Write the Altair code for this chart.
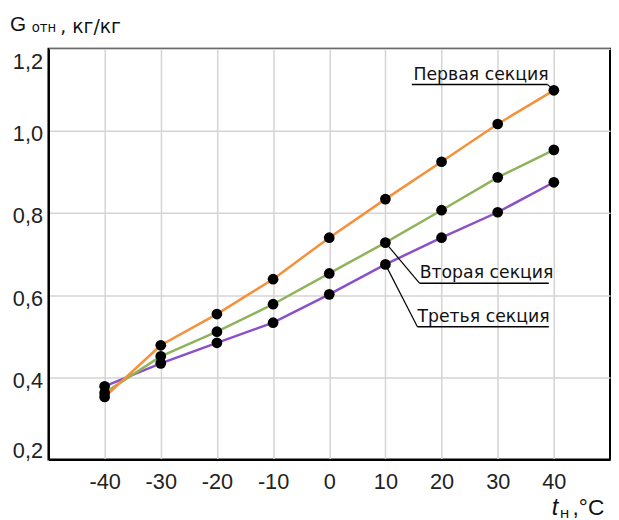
import altair as alt
import pandas as pd

# ---- data ----
temps = [-40, -30, -20, -10, 0, 10, 20, 30, 40]
first_section = [0.352, 0.478, 0.554, 0.639, 0.740, 0.834, 0.925, 1.017, 1.099]
second_section = [0.362, 0.451, 0.511, 0.578, 0.653, 0.728, 0.807, 0.887, 0.954]
third_section = [0.378, 0.434, 0.484, 0.533, 0.602, 0.675, 0.740, 0.802, 0.875]
series_names = ["Первая секция", "Вторая секция", "Третья секция"]
series_colors = ["#f5913a", "#8fb35a", "#8b4fc9"]
x_ticks = [-40, -30, -20, -10, 0, 10, 20, 30, 40]
y_ticks = [0.2, 0.4, 0.6, 0.8, 1.0, 1.2]

# annotation anchors (data units)
ann_text_x = [15.0, 16.1, 15.7]
ann_text_y = [1.125, 0.643, 0.535]
ann_line_x = [14.7, 16.1, 15.7]
ann_line_x2 = [38.9, 39.1, 39.1]
ann_line_y = [1.113, 0.629, 0.523]
leader_from_x = [38.9, 16.1, 15.7]
leader_to_x = [40, 10, 10]
leader_to_y = [1.099, 0.728, 0.675]

all_values = [first_section, second_section, third_section]
rows = []
for name, vals in zip(series_names, all_values):
    for t, v in zip(temps, vals):
        rows.append({"t": t, "g": v, "series": name})
df = pd.DataFrame(rows)

ann = pd.DataFrame({
    "label": series_names,
    "tx": ann_text_x, "ty": ann_text_y,
    "lx": ann_line_x, "lx2": ann_line_x2, "ly": ann_line_y,
    "fx": leader_from_x, "px": leader_to_x, "py": leader_to_y,
})

xs = alt.Scale(domain=[-50, 50], nice=False, zero=False)
ys = alt.Scale(domain=[0.2, 1.2], nice=False, zero=False)

x_axis = alt.Axis(
    values=x_ticks, title=None, ticks=False, labelPadding=12, labelFontSize=22,
    labelFont="Liberation Sans", labelColor="#222",
    labelExpr="(datum.value < 0 ? '-' : '') + abs(datum.value) + (datum.value < 0 ? '\u00a0' : '')",
)
y_axis = alt.Axis(
    values=y_ticks, title=None, ticks=False, labelPadding=6, labelFontSize=22,
    labelFont="Liberation Sans", labelColor="#222", labelFlush=True, labelOffset=3,
    labelExpr="replace(format(datum.value, '.1f'), '.', ',')",
)

base = alt.Chart(df)
layers = []
# background axes/grid layer
layers.append(base.mark_point(opacity=0).encode(
    x=alt.X("t:Q", scale=xs, axis=x_axis),
    y=alt.Y("g:Q", scale=ys, axis=y_axis),
))
for name, col in reversed(list(zip(series_names, series_colors))):
    layers.append(
        base.transform_filter(alt.datum.series == name)
        .mark_line(color=col, strokeWidth=2.5)
        .encode(x=alt.X("t:Q", scale=xs), y=alt.Y("g:Q", scale=ys))
    )

annb = alt.Chart(ann)
layers.append(annb.mark_rule(color="black", strokeWidth=1.2).encode(
    x=alt.X("fx:Q", scale=xs), y=alt.Y("ly:Q", scale=ys),
    x2="px:Q", y2="py:Q"))
layers.append(annb.mark_rule(color="black", strokeWidth=1.5).encode(
    x=alt.X("lx:Q", scale=xs), x2="lx2:Q", y=alt.Y("ly:Q", scale=ys)))
layers.append(annb.mark_text(align="left", baseline="alphabetic", font="DejaVu Sans",
                             fontSize=17.5, color="#111").encode(
    x=alt.X("tx:Q", scale=xs), y=alt.Y("ty:Q", scale=ys), text="label:N"))

layers.append(base.mark_circle(size=118, color="black", opacity=1).encode(
    x=alt.X("t:Q", scale=xs), y=alt.Y("g:Q", scale=ys)))

one = pd.DataFrame({"a": [0]})


def txt(s, x, y, size, font="Liberation Sans", style="normal"):
    return alt.Chart(one).mark_text(
        text=s, align="left", baseline="alphabetic", font=font, fontSize=size,
        fontStyle=style, color="#111"
    ).encode(x=alt.value(x), y=alt.value(y))


# axis titles
layers += [
    txt("G", -39, -18, 21),
    txt("отн", -17, -17, 13.5, font="DejaVu Sans"),
    txt(", кг/кг", 12, -16, 19, font="DejaVu Sans"),
    txt("t", 510, 472, 24, style="italic"),
    txt("н", 518, 475, 15, font="DejaVu Sans"),
    txt(",°C", 531, 472, 23),
]

chart = alt.layer(*layers).properties(
    width=569, height=416,
    autosize=alt.AutoSizeParams(type="none"),
    padding={"left": 41, "top": 38, "right": 1, "bottom": 58},
    background="white",
).configure_view(stroke="black", strokeWidth=2).configure_axis(
    domainColor="black", domainWidth=2, gridColor="#d4d4d4", gridWidth=1.5,
)

chart.save("out.html", embed_options={"renderer": "svg", "actions": False})
